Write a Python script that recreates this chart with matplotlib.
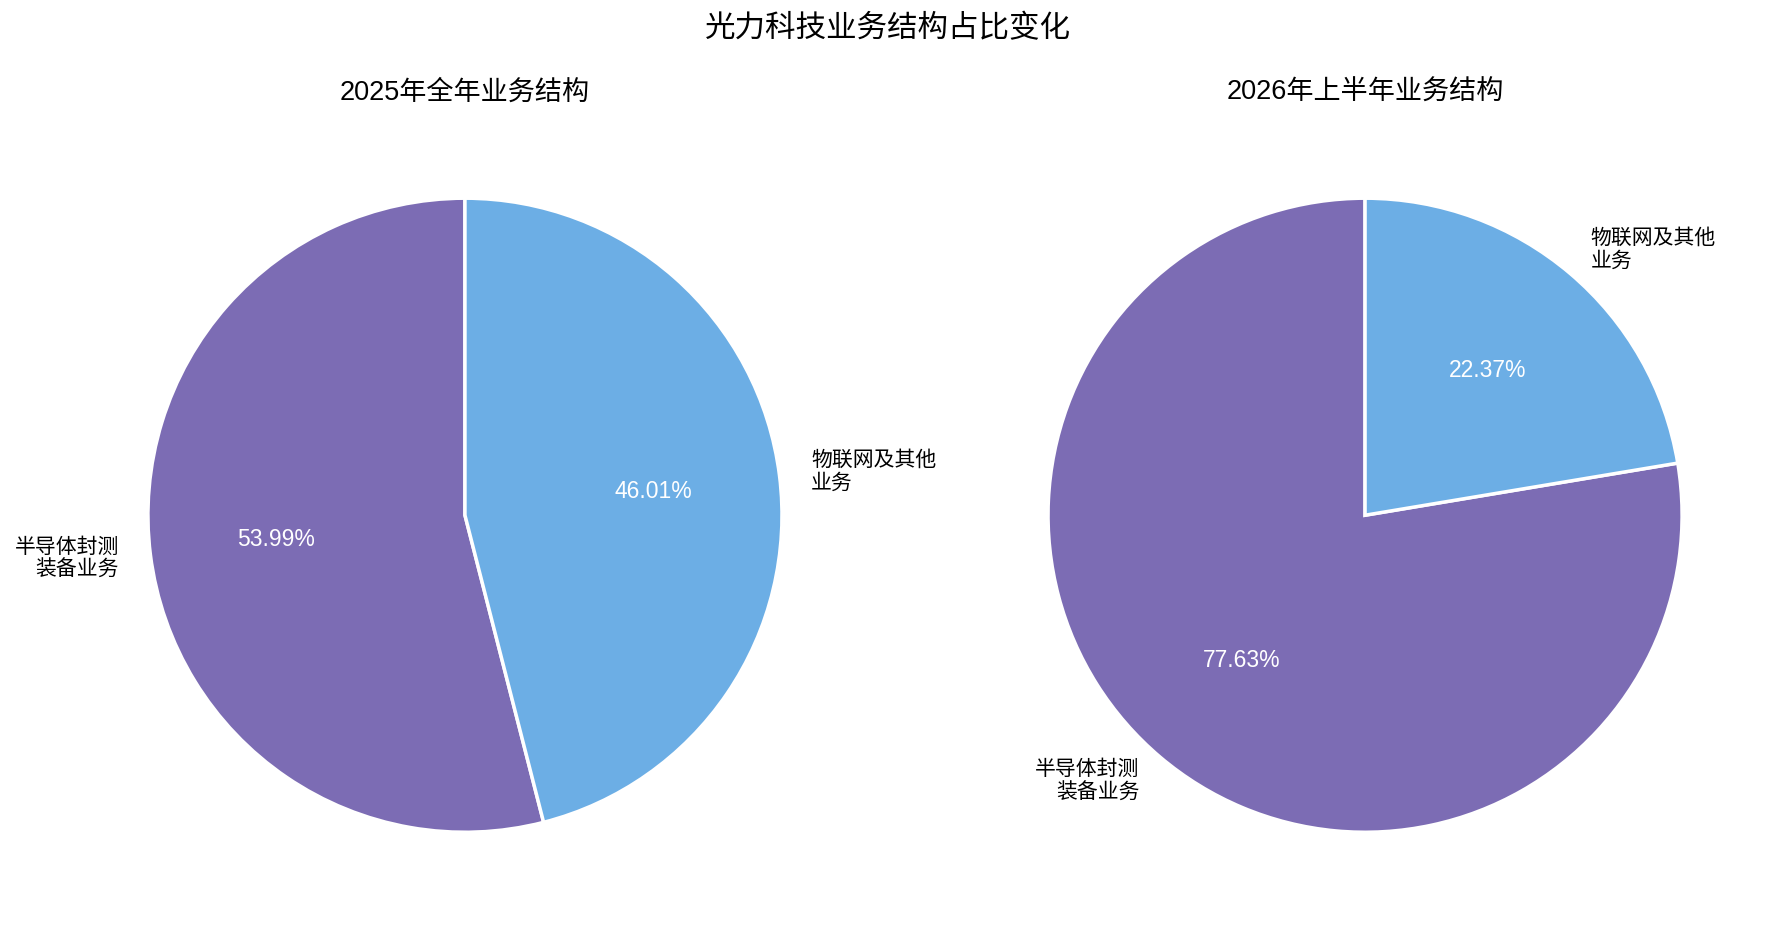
import matplotlib
matplotlib.use("Agg")
import matplotlib.pyplot as plt

plt.rcParams['font.family'] = ['Liberation Sans', 'Noto Sans CJK SC', 'DejaVu Sans']

suptitle = "光力科技业务结构占比变化"
titles = ["2025年全年业务结构", "2026年上半年业务结构"]
categories = ["半导体封测\n装备业务", "物联网及其他\n业务"]
values_2025 = [53.99, 46.01]
values_2026h1 = [77.63, 22.37]
colors = ["#7C6CB4", "#6CAEE5"]

fig = plt.figure(figsize=(17.75, 9.25), dpi=100)
positions = [[0.0387, 0.0145, 0.4465, 0.857], [0.5458, 0.0145, 0.4465, 0.857]]

for pos, title, vals in zip(positions, titles, [values_2025, values_2026h1]):
    ax = fig.add_axes(pos)
    wedges, texts, autotexts = ax.pie(
        vals, labels=categories, colors=colors, startangle=90,
        autopct='%1.2f%%', labeldistance=1.1, pctdistance=0.6,
        wedgeprops=dict(edgecolor='white', linewidth=2.5),
        textprops=dict(fontsize=15))
    for t in autotexts:
        t.set_color('white')
        t.set_fontsize(16.5)
    ax.set_aspect('equal')
    ax.set_title(title, fontsize=19.5, pad=14)

fig.suptitle(suptitle, fontsize=22, y=0.985)
fig.savefig("out.png", dpi=100)
